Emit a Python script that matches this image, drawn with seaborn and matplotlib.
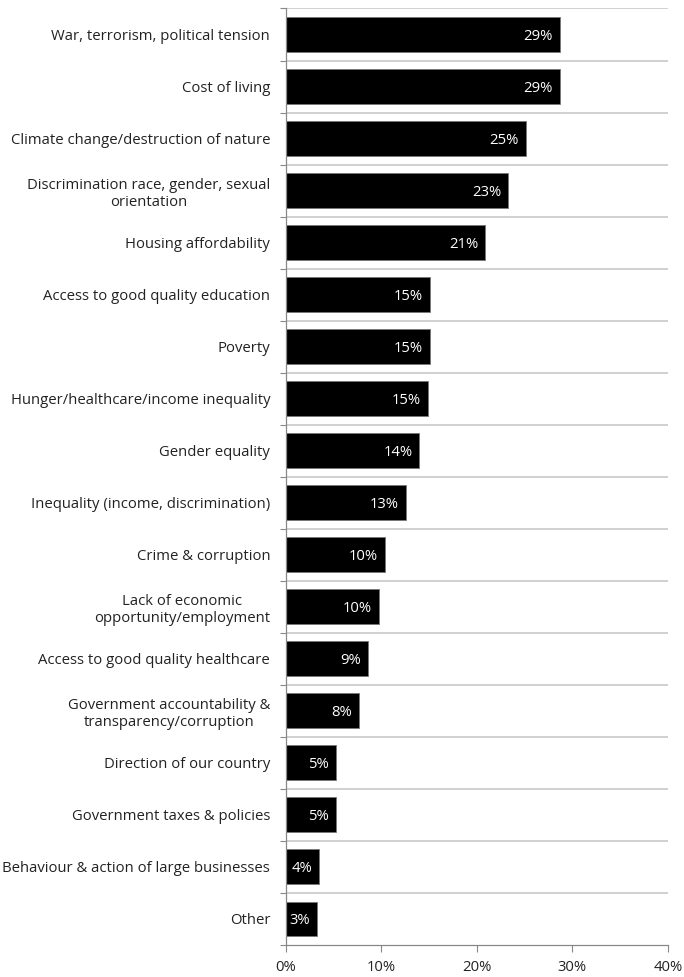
import matplotlib
matplotlib.use("Agg")
import matplotlib.pyplot as plt
from matplotlib.ticker import FixedLocator, PercentFormatter
import seaborn as sns
import pandas as pd

categories = [
    "War, terrorism, political tension",
    "Cost of living",
    "Climate change/destruction of nature",
    "Discrimination race, gender, sexual\norientation",
    "Housing affordability",
    "Access to good quality education",
    "Poverty",
    "Hunger/healthcare/income inequality",
    "Gender equality",
    "Inequality (income, discrimination)",
    "Crime & corruption",
    "Lack of economic\nopportunity/employment",
    "Access to good quality healthcare",
    "Government accountability &\ntransparency/corruption",
    "Direction of our country",
    "Government taxes & policies",
    "Behaviour & action of large businesses",
    "Other",
]
shares = [28.7, 28.7, 25.1, 23.3, 20.9, 15.1, 15.1, 14.9, 14.0, 12.6,
          10.4, 9.8, 8.6, 7.7, 5.3, 5.3, 3.5, 3.3]
x_ticks = [0, 10, 20, 30, 40]

df = pd.DataFrame({"issue": categories, "share": shares})

sns.set_theme(style="white")
plt.rcParams["font.family"] = ["Open Sans", "DejaVu Sans"]

fig = plt.figure(figsize=(6.84, 9.77), dpi=100)
ax = fig.add_axes([0.4174, 0.0328, 0.9766 - 0.4174, 0.9913 - 0.0328])

sns.barplot(data=df, x="share", y="issue", orient="h", color="black",
            width=0.67, edgecolor="#777777", linewidth=0.6, ax=ax)
for p in ax.patches:
    p.set_facecolor("black")

n = len(categories)
ax.set_xlim(0, 40)
ax.set_ylim(n - 0.5, -0.5)

# separators between rows
for b in range(n):
    ax.axhline(b - 0.5, color="#c8c8c8", linewidth=1.2, zorder=0)

ax.xaxis.set_major_locator(FixedLocator(x_ticks))
ax.xaxis.set_major_formatter(PercentFormatter(decimals=0))
ax.yaxis.set_minor_locator(FixedLocator([b - 0.5 for b in range(n + 1)]))
ax.tick_params(axis="y", which="major", length=0, pad=11, labelsize=10.7,
               labelcolor="#222222")
ax.tick_params(axis="y", which="minor", left=True, length=4, width=0.8,
               color="#888888")
ax.tick_params(axis="x", which="major", bottom=True, length=5, width=0.8,
               color="#888888", labelsize=10.7, labelcolor="#222222", pad=6)
for lbl in ax.get_yticklabels():
    lbl.set_multialignment("center")

for s in ["top", "right"]:
    ax.spines[s].set_visible(False)
for s in ["left", "bottom"]:
    ax.spines[s].set_color("#888888")
    ax.spines[s].set_linewidth(0.9)
ax.set_xlabel("")
ax.set_ylabel("")

for i, v in enumerate(shares):
    ax.annotate(f"{round(v):d}%", xy=(v, i), xytext=(-5, -1.2),
                textcoords="offset points", ha="right", va="center",
                color="white", fontsize=10.7)

fig.savefig("out.png", dpi=100)
